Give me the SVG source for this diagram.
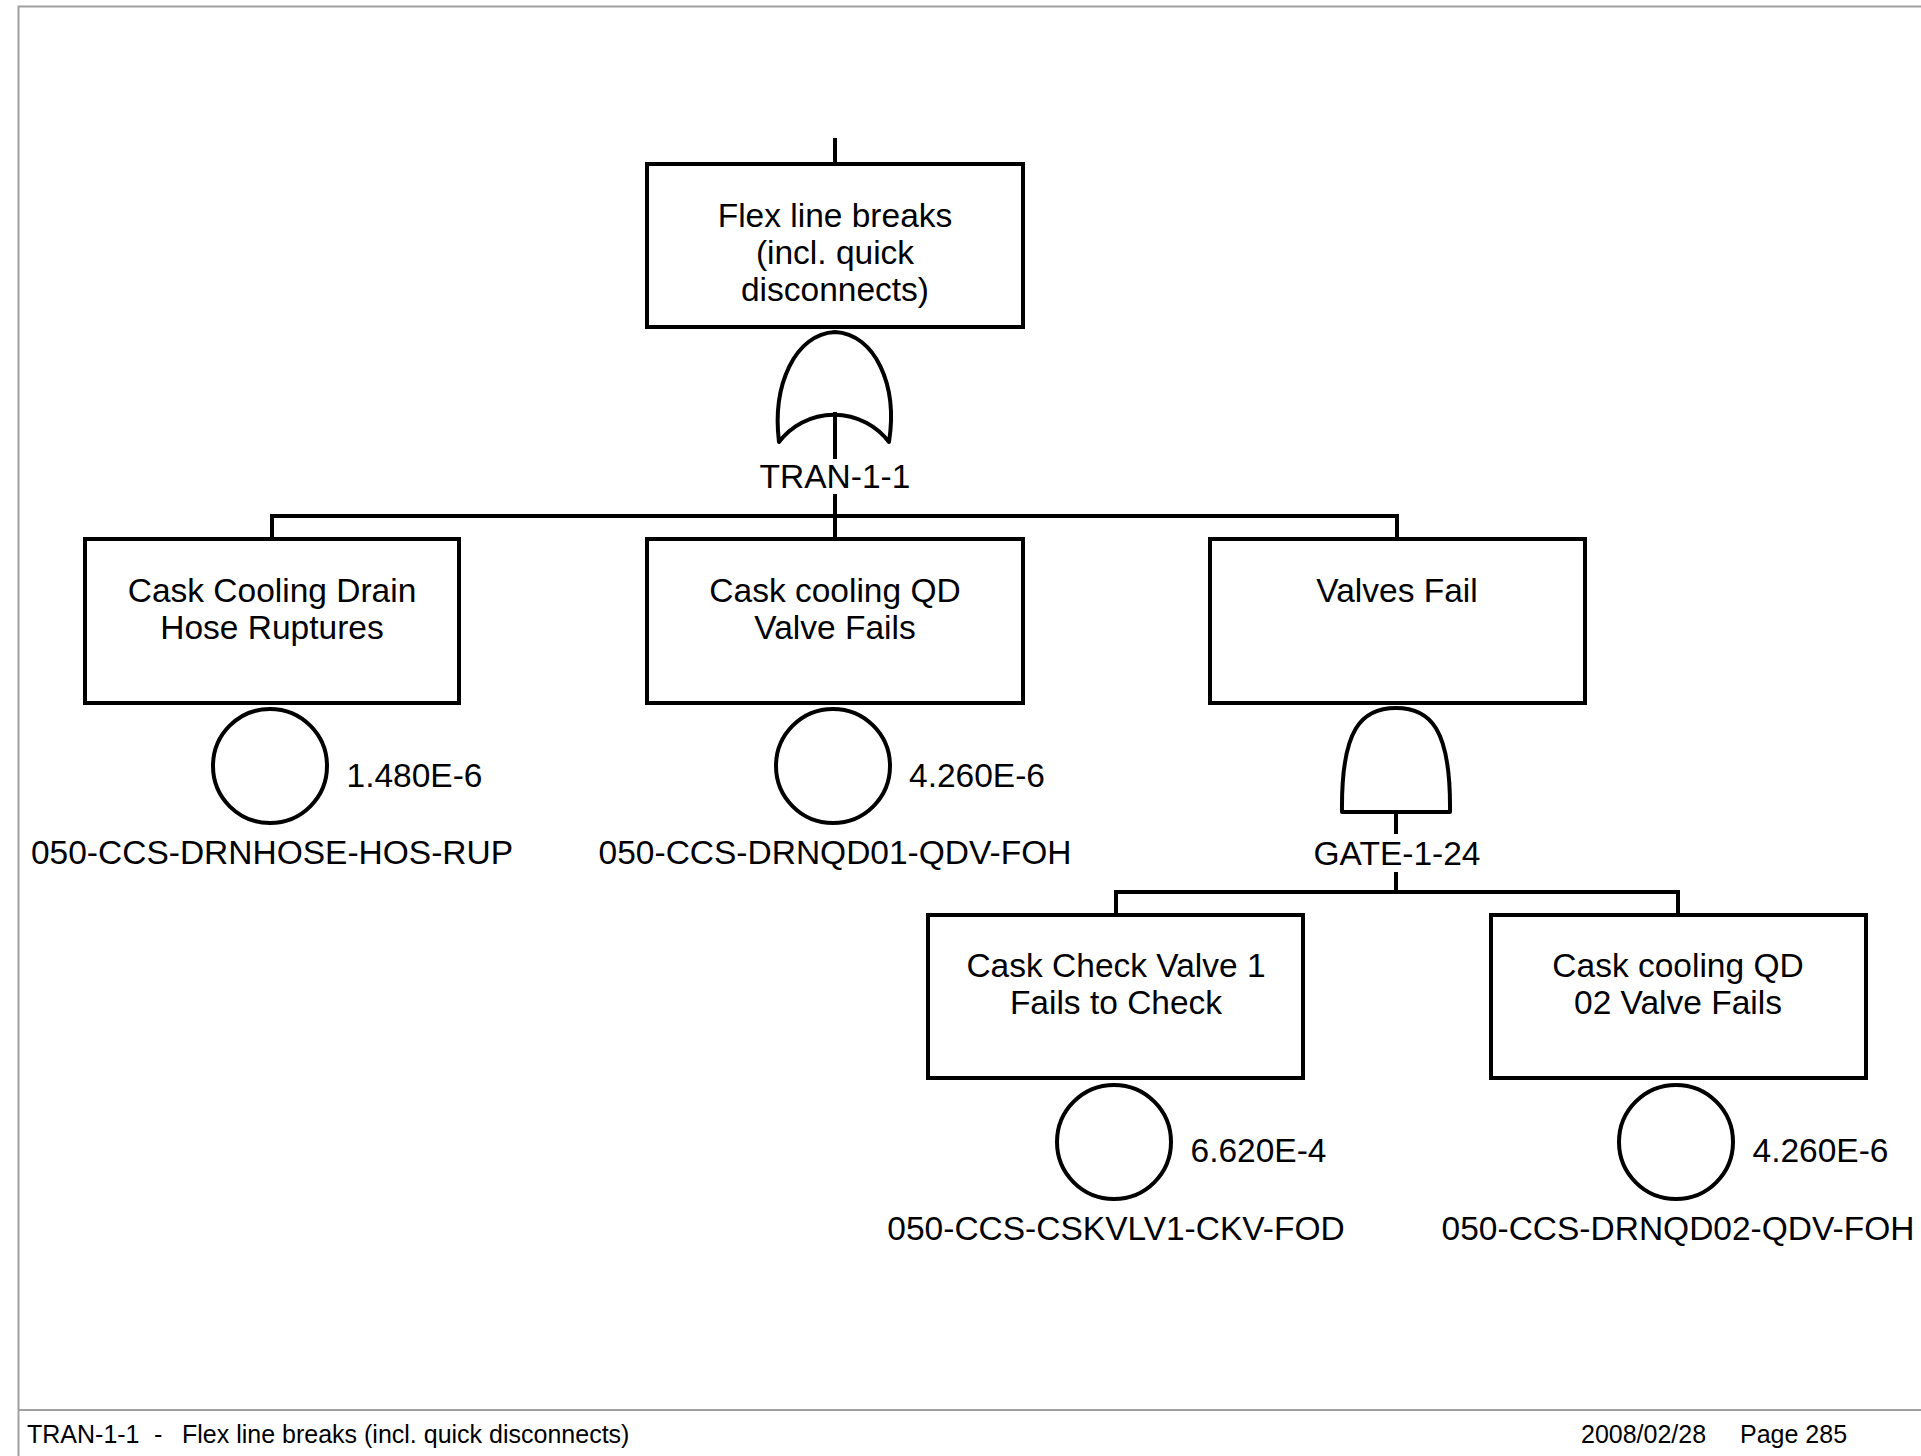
<svg xmlns="http://www.w3.org/2000/svg" width="1921" height="1456" viewBox="0 0 1921 1456">
<style>
  .box { fill: #fff; stroke: #000; stroke-width: 4; }
  .gate { fill: #fff; stroke: #000; stroke-width: 4; stroke-linejoin: round; }
  .ev { fill: #fff; stroke: #000; stroke-width: 4; }
  .ln { fill: none; stroke: #000; stroke-width: 4; stroke-linecap: square; }
  .frame { fill: none; stroke: #a0a0a0; stroke-width: 2; }
  text { font-family: "Liberation Sans", Arial, sans-serif; fill: #000; }
  .t { font-size: 33.5px; text-anchor: middle; }
  .p { font-size: 33.5px; text-anchor: start; }
  .f { font-size: 25px; }
</style>
<rect width="1921" height="1456" fill="#fff"/>
<g id="frame">
  <polyline class="frame" points="18.5,1456 18.5,6.5 1921,6.5"/>
  <line class="frame" x1="18.5" y1="1410" x2="1921" y2="1410"/>
</g>

<g id="connectors">
  <line class="ln" x1="835" y1="140" x2="835" y2="164"/>
  <line class="ln" x1="835" y1="413" x2="835" y2="457"/>
  <line class="ln" x1="835" y1="496" x2="835" y2="516"/>
  <polyline class="ln" points="272,539 272,516 1397,516 1397,539"/>
  <line class="ln" x1="835" y1="516" x2="835" y2="539"/>
  <line class="ln" x1="1396" y1="812" x2="1396" y2="832"/>
  <line class="ln" x1="1396" y1="874" x2="1396" y2="892"/>
  <polyline class="ln" points="1116,915 1116,892 1678,892 1678,915"/>
</g>

<g id="top-event">
  <rect class="box" x="647" y="164" width="376" height="163"/>
  <text class="t" x="835" y="227">Flex line breaks</text>
  <text class="t" x="835" y="264">(incl. quick</text>
  <text class="t" x="835" y="301">disconnects)</text>
</g>

<g id="gate-TRAN-1-1">
  <path class="gate" d="M 779 442 C 772 385, 795 334, 835 332 C 875 334, 898 385, 889 442 A 69 69 0 0 0 779 442 Z"/>
  <line class="ln" x1="835" y1="414" x2="835" y2="457"/>
  <text class="t" x="835" y="488">TRAN-1-1</text>
</g>

<g id="event-drnhose">
  <rect class="box" x="85" y="539" width="374" height="164"/>
  <text class="t" x="272" y="602">Cask Cooling Drain</text>
  <text class="t" x="272" y="639">Hose Ruptures</text>
  <circle class="ev" cx="270" cy="766" r="57"/>
  <text class="p" x="346.5" y="787">1.480E-6</text>
  <text class="t" x="272" y="864">050-CCS-DRNHOSE-HOS-RUP</text>
</g>

<g id="event-drnqd01">
  <rect class="box" x="647" y="539" width="376" height="164"/>
  <text class="t" x="835" y="602">Cask cooling QD</text>
  <text class="t" x="835" y="639">Valve Fails</text>
  <circle class="ev" cx="833" cy="766" r="57"/>
  <text class="p" x="909" y="787">4.260E-6</text>
  <text class="t" x="835" y="864">050-CCS-DRNQD01-QDV-FOH</text>
</g>

<g id="event-valves-fail">
  <rect class="box" x="1210" y="539" width="375" height="164"/>
  <text class="t" x="1397" y="602">Valves Fail</text>
</g>

<g id="gate-GATE-1-24">
  <path class="gate" d="M 1342 812 C 1341 728, 1362 708, 1396 708 C 1430 708, 1451 728, 1450 812 Z"/>
  <text class="t" x="1397" y="865">GATE-1-24</text>
</g>

<g id="event-cskvlv1">
  <rect class="box" x="928" y="915" width="375" height="163"/>
  <text class="t" x="1116" y="977">Cask Check Valve 1</text>
  <text class="t" x="1116" y="1014">Fails to Check</text>
  <circle class="ev" cx="1114" cy="1142" r="57"/>
  <text class="p" x="1190.5" y="1162">6.620E-4</text>
  <text class="t" x="1116" y="1240">050-CCS-CSKVLV1-CKV-FOD</text>
</g>

<g id="event-drnqd02">
  <rect class="box" x="1491" y="915" width="375" height="163"/>
  <text class="t" x="1678" y="977">Cask cooling QD</text>
  <text class="t" x="1678" y="1014">02 Valve Fails</text>
  <circle class="ev" cx="1676" cy="1142" r="57"/>
  <text class="p" x="1752.5" y="1162">4.260E-6</text>
  <text class="t" x="1678" y="1240">050-CCS-DRNQD02-QDV-FOH</text>
</g>

<g id="footer">
  <text class="f" y="1443"><tspan x="27">TRAN-1-1</tspan><tspan x="154">-</tspan><tspan x="182">Flex line breaks (incl. quick disconnects)</tspan></text>
  <text class="f" y="1443"><tspan x="1581">2008/02/28</tspan><tspan x="1740">Page 285</tspan></text>
</g>
</svg>
